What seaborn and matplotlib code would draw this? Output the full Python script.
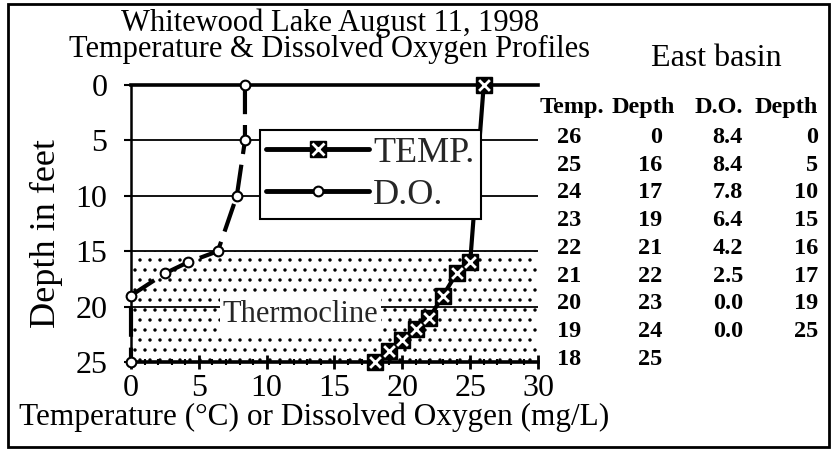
import matplotlib
matplotlib.use("Agg")
import matplotlib.pyplot as plt
import matplotlib.hatch as mhatch
import seaborn as sns
from matplotlib.lines import Line2D
from matplotlib.patches import Rectangle
from matplotlib.ticker import MultipleLocator

# ---- data ----
temp = [26, 25, 24, 23, 22, 21, 20, 19, 18]
temp_depth = [0, 16, 17, 19, 21, 22, 23, 24, 25]
do_vals = [8.4, 8.4, 7.8, 6.4, 4.2, 2.5, 0.0, 0.0]
do_depth = [0, 5, 10, 15, 16, 17, 19, 25]
x_ticks = [0, 5, 10, 15, 20, 25, 30]
y_ticks = [0, 5, 10, 15, 20, 25]
thermo_top, thermo_bottom = 15, 25
headers = ["Temp.", "Depth", "D.O.", "Depth"]
title_lines = ["Whitewood Lake August 11, 1998",
               "Temperature & Dissolved Oxygen Profiles"]
basin = "East basin"


# a slightly sparser dot hatch (closer to the stipple of the original)
class _SparseDots(mhatch.Circles):
    size = 0.1
    filled = True

    def __init__(self, hatch, density):
        self.num_rows = int(hatch.count(".") * 5)
        super().__init__(hatch, density)


mhatch._hatch_types = [_SparseDots if c is mhatch.SmallFilledCircles else c
                       for c in mhatch._hatch_types]

sns.set_theme(style="ticks")
plt.rcParams["font.family"] = ["Liberation Serif", "DejaVu Serif"]
plt.rcParams["hatch.linewidth"] = 1.0
plt.rcParams["hatch.color"] = "black"

W, H = 837, 451
fig = plt.figure(figsize=(W / 100, H / 100), dpi=100)
fig.patch.set_facecolor("white")


def fx(px):
    return px / W


def fy(py):
    return 1 - py / H


ax = fig.add_axes([fx(131), fy(362), (538 - 131) / W, (362 - 85) / H])
ax.set_facecolor("white")

# thermocline shaded region
ax.axhspan(thermo_top, thermo_bottom, facecolor="white", edgecolor="black",
           hatch="..", lw=0, zorder=0.5)

# lines
sns.lineplot(x=do_vals, y=do_depth, sort=False, estimator=None, ax=ax,
             color="black", lw=3, linestyle=(0, (7, 2.6)), marker="o", ms=7,
             mfc="white", mec="black", mew=1.5, clip_on=False, zorder=4)
sns.lineplot(x=temp, y=temp_depth, sort=False, estimator=None, ax=ax,
             color="black", lw=3, marker="s", ms=12, mfc="black", mec="black",
             mew=1, clip_on=False, zorder=5)
sns.scatterplot(x=temp, y=temp_depth, marker="x", color="white", s=60,
                linewidth=2, clip_on=False, zorder=6, ax=ax)

ax.set_xlim(0, 30)
ax.set_ylim(25, 0)
ax.set_xticks(x_ticks)
ax.set_yticks(y_ticks)
ax.xaxis.set_minor_locator(MultipleLocator(1))
ax.grid(axis="y", color="black", lw=1.3)
ax.tick_params(axis="x", which="major", direction="inout", length=10, width=2,
               labelsize=23, pad=4, color="black", labelcolor="black")
ax.tick_params(axis="x", which="minor", direction="inout", length=5, width=1.5,
               color="black")
ax.tick_params(axis="y", which="major", direction="out", length=5, width=1.5,
               labelsize=23, pad=12, color="black", labelcolor="black")
ax.tick_params(axis="y", which="minor", left=False)

for side, lw in [("top", 2.6), ("bottom", 2.6), ("left", 1.8)]:
    ax.spines[side].set_visible(True)
    ax.spines[side].set_color("black")
    ax.spines[side].set_linewidth(lw)
ax.spines["right"].set_visible(False)

ax.set_xlabel("Temperature (°C) or Dissolved Oxygen (mg/L)", fontsize=22.5,
              color="black")
ax.xaxis.set_label_coords((314 - 131) / 407, -(403 - 362) / 277)
ax.set_ylabel("Depth in feet", fontsize=26, color="black")
ax.yaxis.set_label_coords((63 - 131) / 407, 1 - (234 - 85) / 277)

ax.text(12.5, 21.4, "Thermocline", ha="center", va="baseline", fontsize=22,
        bbox=dict(boxstyle="square,pad=0.08", fc="white", ec="none"), zorder=3)

# legend
h_temp = (Line2D([], [], color="black", lw=3.5, marker="s", ms=12, mfc="black",
                 mec="black"),
          Line2D([], [], ls="none", marker="x", ms=8, mec="white", mew=2))
h_do = Line2D([], [], color="black", lw=3.5, marker="o", ms=7, mfc="white",
              mec="black", mew=1.5)
leg = ax.legend([h_temp, h_do], ["TEMP.", "D.O."], loc="upper left",
                bbox_to_anchor=(fx(260), fy(130)), bbox_transform=fig.transFigure,
                borderaxespad=0, fontsize=26, handlelength=2.85,
                handletextpad=0.1, borderpad=0.18, labelspacing=0.25,
                frameon=True, fancybox=False, framealpha=1, edgecolor="black",
                numpoints=1)
leg.get_frame().set_linewidth(1.5)
leg.set_zorder(7)

# titles
fig.text(fx(330), fy(8), "\n".join(title_lines), ha="center", va="top",
         multialignment="center", fontsize=22, linespacing=0.88,
         color="black")
fig.text(fx(716), fy(66), basin, ha="center", va="baseline", fontsize=23,
         color="black")

# data table
tfs = 17.5
fig.text(fx(540), fy(113), headers[0], ha="left", va="baseline", fontsize=tfs,
         fontweight="bold", color="black")
fig.text(fx(675), fy(113), headers[1], ha="right", va="baseline", fontsize=tfs,
         fontweight="bold", color="black")
fig.text(fx(743), fy(113), headers[2], ha="right", va="baseline", fontsize=tfs,
         fontweight="bold", color="black")
fig.text(fx(818), fy(113), headers[3], ha="right", va="baseline", fontsize=tfs,
         fontweight="bold", color="black")
row0, step = 143, 27.7
for i, (t, d) in enumerate(zip(temp, temp_depth)):
    yb = fy(row0 + i * step)
    fig.text(fx(557), yb, f"{t}", ha="left", va="baseline", fontsize=tfs,
             fontweight="bold", color="black")
    fig.text(fx(662), yb, f"{d}", ha="right", va="baseline", fontsize=tfs,
             fontweight="bold", color="black")
for i, (o, d) in enumerate(zip(do_vals, do_depth)):
    yb = fy(row0 + i * step)
    fig.text(fx(743), yb, f"{o:.1f}", ha="right", va="baseline", fontsize=tfs,
             fontweight="bold", color="black")
    fig.text(fx(818), yb, f"{d}", ha="right", va="baseline", fontsize=tfs,
             fontweight="bold", color="black")

# figure border
fig.add_artist(Rectangle((fx(8), fy(447)), (829 - 8) / W, (447 - 4) / H,
                         fill=False, lw=2, ec="black",
                         transform=fig.transFigure))

fig.savefig("out.png", dpi=100, facecolor="white")
